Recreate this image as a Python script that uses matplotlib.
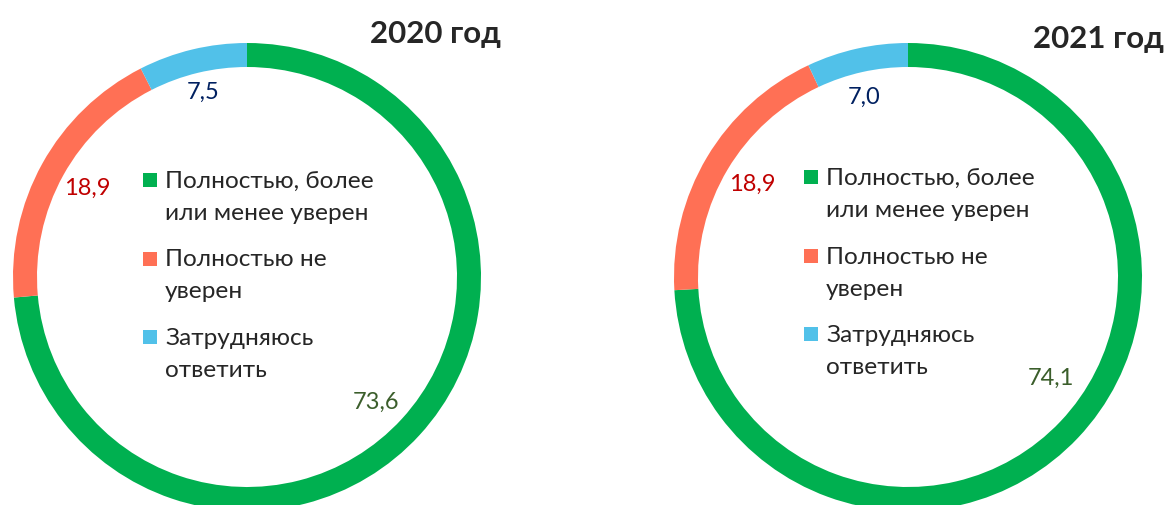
import numpy as np
import matplotlib
matplotlib.use("Agg")
import matplotlib.pyplot as plt
from matplotlib.patches import Rectangle

# survey answers, shares in %
answers = ["Полностью, более\nили менее уверен", "Полностью не\nуверен", "Затрудняюсь\nответить"]
years = ["2020 год", "2021 год"]
share_2020 = [73.6, 18.9, 7.5]
share_2021 = [74.1, 18.9, 7.0]

colors = ["#00B050", "#FF7055", "#51C1E9"]
value_colors = ["#3B5E2B", "#C00000", "#002060"]
text_col = "#262626"
FONT = ["Lato", "DejaVu Sans"]

W, H = 1168, 505
fig = plt.figure(figsize=(W / 100, H / 100), dpi=100)
ax = fig.add_axes([0, 0, 1, 1])

R, RING = 234, 24
# layout per chart, in pixels (y measured from top); nudge = (deg, radius) per value label
charts = [
    dict(vals=share_2020, title=years[0], cx=247, cy=277, tx=435, ty=43, lx=143, ly=188,
         nudge=[(-1.5, 180), (0, 183), (0, 190)]),
    dict(vals=share_2021, title=years[1], cx=908, cy=277, tx=1098, ty=48, lx=804, ly=185,
         nudge=[(8, 175), (0, 181), (1, 185)]),
]

for c in charts:
    cx, cy = c["cx"], H - c["cy"]
    wedges, _ = ax.pie(c["vals"], colors=colors, startangle=90, counterclock=False,
                       radius=R, center=(cx, cy),
                       wedgeprops=dict(width=RING, linewidth=0))
    # value labels inside the hole, near the middle of each wedge
    for w, v, col, (dn, r) in zip(wedges, c["vals"], value_colors, c["nudge"]):
        mid = np.deg2rad((w.theta1 + w.theta2) / 2 + dn)
        ax.text(cx + r * np.cos(mid), cy + r * np.sin(mid), f"{v:.1f}".replace(".", ","),
                color=col, fontsize=17, ha="center", va="center", family=FONT)
    ax.text(c["tx"], H - c["ty"], c["title"], fontsize=22.5, fontweight="bold",
            color=text_col, ha="center", va="baseline", family=FONT)
    # legend drawn by hand
    base = c["ly"]
    for lab, col in zip(answers, colors):
        ax.add_patch(Rectangle((c["lx"], H - base + 1), 14, 14, color=col, lw=0))
        for k, line in enumerate(lab.split("\n")):
            ax.text(c["lx"] + 22, H - (base + 32 * k), line, fontsize=17.6, color=text_col,
                    ha="left", va="baseline", family=FONT)
        base += 78.5

ax.set_xlim(0, W)
ax.set_ylim(0, H)
ax.set_aspect("auto")
ax.axis("off")
fig.savefig("out.png", dpi=100, facecolor="white")
